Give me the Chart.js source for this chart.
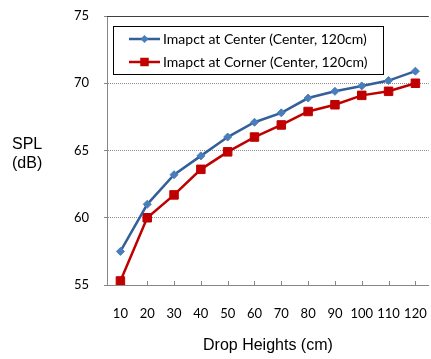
<!DOCTYPE html>
<html>
<head>
<meta charset="utf-8">
<script src="https://cdn.jsdelivr.net/npm/chart.js@4/dist/chart.umd.min.js"></script>
<style>
  html, body { margin: 0; padding: 0; background: #fff; overflow: hidden; }
  #wrap { position: relative; width: 440px; height: 359px; }
</style>
</head>
<body>
<div id="wrap"><canvas id="chart" width="440" height="359"></canvas></div>
<script>
// chart data
const heights = ['10', '20', '30', '40', '50', '60', '70', '80', '90', '100', '110', '120'];
const centerSPL = [57.5, 61.0, 63.2, 64.6, 66.0, 67.1, 67.8, 68.9, 69.4, 69.8, 70.2, 70.9];
const cornerSPL = [55.3, 60.0, 61.7, 63.6, 64.9, 66.0, 66.9, 67.9, 68.4, 69.1, 69.4, 70.0];
const yTicks = [55, 60, 65, 70, 75];
const seriesNames = ['Imapct at Center (Center, 120cm)', 'Imapct at Corner (Center, 120cm)'];

const tickFont = { family: 'Lato, "Open Sans", sans-serif', size: 13 };

// marker helper used by the legend
function marker(ctx, style, r, x, y, color) {
  ctx.fillStyle = color;
  ctx.beginPath();
  if (style === 'rectRot') {
    ctx.moveTo(x - r, y); ctx.lineTo(x, y - r); ctx.lineTo(x + r, y); ctx.lineTo(x, y + r);
    ctx.closePath();
  } else {
    const s = r * Math.SQRT1_2;
    ctx.rect(x - s, y - s, 2 * s, 2 * s);
  }
  ctx.fill();
}

const extras = {
  id: 'extras',
  beforeDatasetsDraw(chart) {
    const { ctx, chartArea } = chart;
    ctx.save();
    // plot frame top
    ctx.strokeStyle = '#404040';
    ctx.lineWidth = 1;
    ctx.beginPath();
    ctx.moveTo(chartArea.left, Math.round(chartArea.top) + 0.5);
    ctx.lineTo(chartArea.right, Math.round(chartArea.top) + 0.5);
    ctx.stroke();
    // inward tick marks on the x axis
    const xs = chart.scales.x;
    ctx.strokeStyle = '#868686';
    ctx.beginPath();
    xs.ticks.forEach((t, i) => {
      const px = Math.round(xs.getPixelForTick(i)) + 0.5;
      ctx.moveTo(px, chartArea.bottom);
      ctx.lineTo(px, chartArea.bottom - 4);
    });
    ctx.stroke();
    ctx.restore();
  },
  afterDraw(chart) {
    const { ctx, chartArea } = chart;
    ctx.save();
    // y axis title, horizontal
    ctx.fillStyle = '#000';
    ctx.font = '16px "Liberation Sans", Arial, sans-serif';
    ctx.textAlign = 'left';
    ctx.textBaseline = 'middle';
    ctx.fillText('SPL', 12, 145);
    ctx.fillText('(dB)', 12, 164);

    // boxed legend
    const x = chartArea.left + 6, y = chartArea.top + 10, w = 270, h = 48;
    ctx.fillStyle = '#fff';
    ctx.fillRect(x, y, w, h);
    ctx.strokeStyle = '#000';
    ctx.lineWidth = 1;
    ctx.strokeRect(Math.round(x) + 0.5, Math.round(y) + 0.5, w, h);
    ctx.font = '14px Lato, "Open Sans", sans-serif';
    chart.data.datasets.forEach((ds, i) => {
      const cy = y + 13 + i * 23;
      ctx.strokeStyle = ds.borderColor;
      ctx.lineWidth = ds.borderWidth;
      ctx.beginPath();
      ctx.moveTo(x + 16, cy);
      ctx.lineTo(x + 47, cy);
      ctx.stroke();
      marker(ctx, ds.pointStyle, ds.pointRadius, x + 31.5, cy, ds.pointBackgroundColor);
      ctx.fillStyle = '#000';
      ctx.fillText(ds.label, x + 50, cy);
    });
    ctx.restore();
  }
};

new Chart(document.getElementById('chart'), {
  type: 'line',
  data: {
    labels: heights,
    datasets: [{
      label: seriesNames[0],
      data: centerSPL,
      borderColor: '#335F9A',
      borderWidth: 2.5,
      pointStyle: 'rectRot',
      pointRadius: 4,
      pointBackgroundColor: '#4A7EBB',
      pointBorderColor: '#4A7EBB',
      pointBorderWidth: 1,
      tension: 0
    }, {
      label: seriesNames[1],
      data: cornerSPL,
      borderColor: '#C00000',
      borderWidth: 2.5,
      pointStyle: 'rect',
      pointRadius: 6,
      pointBackgroundColor: '#C00000',
      pointBorderColor: '#C00000',
      pointBorderWidth: 1,
      tension: 0
    }]
  },
  options: {
    responsive: false,
    animation: false,
    devicePixelRatio: 1,
    layout: { padding: { left: 0, top: 16, right: 7, bottom: 0 } },
    plugins: { legend: { display: false }, tooltip: { enabled: false } },
    scales: {
      x: {
        offset: true,
        afterFit: s => { s.height = 74; },
        grid: { display: false },
        border: { display: true, color: '#868686', width: 1 },
        ticks: { color: '#000', font: tickFont, padding: 13, maxRotation: 0, autoSkip: false },
        title: {
          display: true,
          text: 'Drop Heights (cm)',
          color: '#000',
          font: { family: '"Liberation Sans", Arial, sans-serif', size: 16, lineHeight: 1.2 },
          padding: { top: 0, bottom: 4 }
        }
      },
      y: {
        min: 55,
        max: 75,
        afterFit: s => { s.width = 107; s.paddingTop = 0; s.paddingBottom = 0; },
        afterBuildTicks: s => { s.ticks = yTicks.map(v => ({ value: v })); },
        grid: {
          color: c => (c.tick && (c.tick.value === 55 || c.tick.value === 75)) ? 'rgba(0,0,0,0)' : '#8c8c8c',
          tickColor: '#868686',
          tickLength: 3,
          drawTicks: true
        },
        border: { display: true, color: '#868686', width: 1, dash: [1, 1] },
        ticks: { color: '#000', font: tickFont, padding: 15 }
      }
    }
  },
  plugins: [extras]
});
</script>
</body>
</html>
